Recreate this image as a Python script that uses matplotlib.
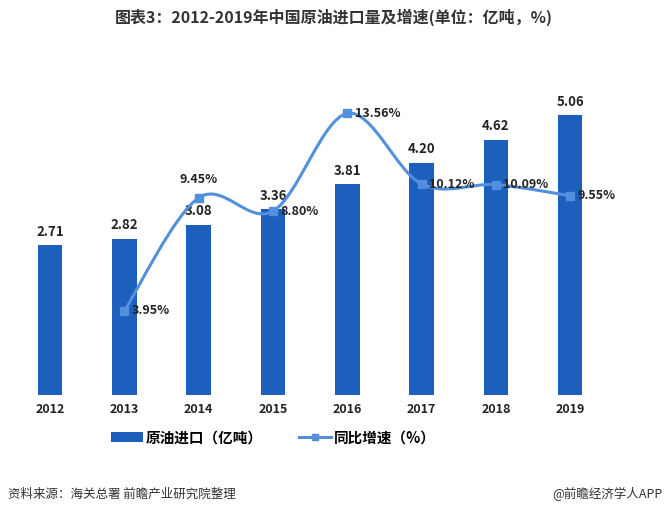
import matplotlib
matplotlib.use("Agg")
import matplotlib.pyplot as plt
import numpy as np
from matplotlib.path import Path
from matplotlib.patches import PathPatch, Patch
from matplotlib.lines import Line2D

plt.rcParams['font.family'] = ['Noto Sans CJK SC', 'DejaVu Sans']

# --- données ---
years = ['2012', '2013', '2014', '2015', '2016', '2017', '2018', '2019']
imports = [2.71, 2.82, 3.08, 3.36, 3.81, 4.20, 4.62, 5.06]
growth_years = ['2013', '2014', '2015', '2016', '2017', '2018', '2019']
growth = [3.95, 9.45, 8.80, 13.56, 10.12, 10.09, 9.55]

BAR_COLOR = '#1d5fbd'
LINE_COLOR = '#5290dd'

fig = plt.figure(figsize=(6.67, 5.14), dpi=100)
ax = fig.add_axes([0.0195, 0.2315, 0.891, 0.6455])
ax2 = ax.twinx()

x = np.arange(len(years))
ax.bar(x, imports, width=0.33, color=BAR_COLOR, zorder=2)
for xi, v in zip(x, imports):
    ax.text(xi, v + 0.12, f'{v:.2f}', ha='center', va='bottom',
            fontsize=9.5, fontweight='bold', color='#222222')

ax.set_xlim(-0.5, len(years) - 0.5)
ax.set_ylim(0, 6)
ax.set_xticks(x)
ax.set_xticklabels(years, fontsize=9, fontweight='bold', color='#222222')
ax.tick_params(axis='x', length=0, pad=6)
ax.set_yticks([])
for s in ax.spines.values():
    s.set_visible(False)

# courbe lissée (type Excel) entre les points
gx = np.array([years.index(y) for y in growth_years], dtype=float)
gy = np.array(growth)
pts = np.column_stack([gx, gy])
verts = [tuple(pts[0])]
codes = [Path.MOVETO]
t = 1 / 6
for i in range(len(pts) - 1):
    p0 = pts[i - 1] if i > 0 else pts[i]
    p1, p2 = pts[i], pts[i + 1]
    p3 = pts[i + 2] if i + 2 < len(pts) else pts[i + 1]
    c1 = p1 + (p2 - p0) * t
    c2 = p2 - (p3 - p1) * t
    verts += [tuple(c1), tuple(c2), tuple(p2)]
    codes += [Path.CURVE4] * 3
ax2.add_patch(PathPatch(Path(verts, codes), fill=False, edgecolor=LINE_COLOR,
                        lw=2.2, zorder=3))
ax2.plot(gx, gy, ls='none', marker='s', ms=6, color=LINE_COLOR, zorder=4)
for xi, v in zip(gx, gy):
    if xi == 2:
        ax2.text(xi, v + 0.55, f'{v:.2f}%', ha='center', va='bottom',
                 fontsize=9, color='#222222', fontweight='bold')
    else:
        ax2.text(xi + 0.1, v, f'{v:.2f}%', ha='left', va='center',
                 fontsize=9, color='#222222', fontweight='bold')
ax2.set_ylim(-0.15, 16)
ax2.set_yticks([])
for s in ax2.spines.values():
    s.set_visible(False)

# titre
fig.text(0.5, 0.967, '图表3：2012-2019年中国原油进口量及增速(单位：亿吨，%)',
         ha='center', va='center', fontsize=11.5, fontweight='bold', color='#333333')

# légende
handles = [Patch(facecolor=BAR_COLOR, edgecolor='none'),
           Line2D([0], [0], color=LINE_COLOR, lw=2.2, marker='s', ms=5)]
fig.legend(handles, ['原油进口（亿吨）', '同比增速（%）'], loc='center',
           bbox_to_anchor=(0.41, 0.149), ncol=2, frameon=False,
           prop={'size': 10.5, 'weight': 'bold'}, handlelength=2.2,
           handletextpad=0.2, columnspacing=2.5)

# sources
fig.text(0.012, 0.039, '资料来源：海关总署 前瞻产业研究院整理', ha='left', va='center',
         fontsize=9, color='#333333')
fig.text(0.993, 0.039, '@前瞻经济学人APP', ha='right', va='center',
         fontsize=9, color='#333333')

fig.savefig('out.png', dpi=100)
